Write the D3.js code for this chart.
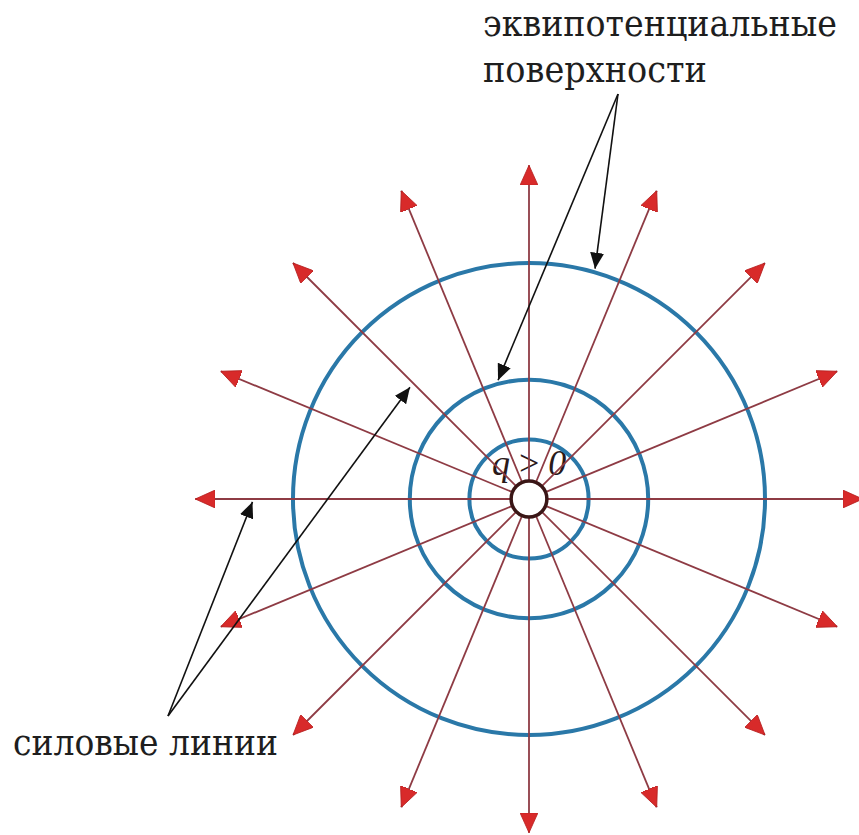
<!DOCTYPE html>
<html>
<head>
<meta charset="utf-8">
<script src="https://cdn.jsdelivr.net/npm/d3@7"></script>
<style>
  html, body { margin: 0; padding: 0; background: #fff; }
  svg { display: block; }
  .serif { font-family: 'DejaVu Serif', serif; }
  .qlab { font-family: 'Liberation Serif', 'DejaVu Serif', serif; }
</style>
</head>
<body>
<svg id="chart" width="859" height="835"></svg>
<script>
// ---- data ----
// field line directions (degrees, counter-clockwise from +x)
const fieldLineAngles = [0, 22.5, 45, 67.5, 90, 112.5, 135, 157.5, 180, 202.5, 225, 247.5, 270, 292.5, 315, 337.5];
// equipotential surface radii (relative units)
const equipotentialRadii = [1, 2, 3.96];
// charge radius and field-line length (relative units)
const chargeRadius = [0.3];
const fieldLineLength = [5.6];
// labels
const chargeLabel = ["q", " > ", "0"];
const equiLabel = ["эквипотенциальные", "поверхности"];
const fieldLabel = ["силовые линии"];
// annotation targets: [angle deg, radius units]
const equiTargets = [[74, 4.02], [104.6, 2.06]];
const fieldTargets = [[180.6, 4.64], [136.8, 2.74]];

// ---- drawing ----
const svg = d3.select("#chart");
const cx = 529, cy = 499;
const r = d3.scaleLinear().domain([0, 1]).range([0, 59.6]);
const pt = (deg, rad) => {
  const a = deg * Math.PI / 180;
  return [cx + r(rad) * Math.cos(a), cy - r(rad) * Math.sin(a)];
};

const defs = svg.append("defs");
defs.append("marker")
  .attr("id", "redHead").attr("markerUnits", "userSpaceOnUse")
  .attr("viewBox", "0 -9 20 18").attr("markerWidth", 20).attr("markerHeight", 18)
  .attr("refX", 20).attr("refY", 0).attr("orient", "auto")
  .append("path").attr("d", "M0,-9L20,0L0,9Z")
  .attr("fill", "#d82a2a").attr("stroke", "#b51e1e").attr("stroke-width", 0.8);
defs.append("marker")
  .attr("id", "blackHead").attr("markerUnits", "userSpaceOnUse")
  .attr("viewBox", "0 -7 16 14").attr("markerWidth", 16).attr("markerHeight", 14)
  .attr("refX", 16).attr("refY", 0).attr("orient", "auto")
  .append("path").attr("d", "M0,-7L16,0L0,7Z").attr("fill", "#111");

// q > 0 label (below lines)
const ql = svg.append("text").attr("class", "qlab")
  .attr("x", 492).attr("y", 475)
  .attr("font-size", 36).attr("fill", "#2a1a1a");
ql.selectAll("tspan").data(chargeLabel).join("tspan")
  .attr("font-style", (d, i) => i === 1 ? "normal" : "italic")
  .text(d => d);

// equipotential circles
svg.append("g").selectAll("circle").data(equipotentialRadii).join("circle")
  .attr("cx", cx).attr("cy", cy).attr("r", d => r(d))
  .attr("fill", "none").attr("stroke", "#2a78a8").attr("stroke-width", 4);

// field lines
svg.append("g").selectAll("line").data(fieldLineAngles).join("line")
  .attr("x1", d => pt(d, chargeRadius[0])[0]).attr("y1", d => pt(d, chargeRadius[0])[1])
  .attr("x2", d => pt(d, fieldLineLength[0])[0]).attr("y2", d => pt(d, fieldLineLength[0])[1])
  .attr("stroke", "#8e3b44").attr("stroke-width", 1.8)
  .attr("marker-end", "url(#redHead)");

// charge
svg.append("circle").attr("cx", cx).attr("cy", cy).attr("r", r(chargeRadius[0]))
  .attr("fill", "#fff").attr("stroke", "#3a1616").attr("stroke-width", 3.5);

// labels (horizontally condensed to the reference widths)
function condensedLabel(txt, x, y, size, width) {
  const t = svg.append("text").attr("class", "serif")
    .attr("x", 0).attr("y", 0)
    .attr("font-size", size).attr("fill", "#1e1e1e")
    .text(txt);
  const w = t.node().getComputedTextLength();
  const sx = Math.min(1, width / w);
  t.attr("transform", `translate(${x},${y}) scale(${sx},1)`);
}
const equiWidths = [354, 224];
equiLabel.forEach((d, i) => condensedLabel(d, 483, 36 + i * 46, 37, equiWidths[i]));
condensedLabel(fieldLabel[0], 13, 755, 38, 265);

// annotation arrows
const equiSrc = [618, 94];
svg.append("g").selectAll("line").data(equiTargets).join("line")
  .attr("x1", equiSrc[0]).attr("y1", equiSrc[1])
  .attr("x2", d => pt(d[0], d[1])[0]).attr("y2", d => pt(d[0], d[1])[1])
  .attr("stroke", "#111").attr("stroke-width", 1.6)
  .attr("marker-end", "url(#blackHead)");
const fieldSrc = [168, 716];
svg.append("g").selectAll("line").data(fieldTargets).join("line")
  .attr("x1", fieldSrc[0]).attr("y1", fieldSrc[1])
  .attr("x2", d => pt(d[0], d[1])[0]).attr("y2", d => pt(d[0], d[1])[1])
  .attr("stroke", "#111").attr("stroke-width", 1.6)
  .attr("marker-end", "url(#blackHead)");
</script>
</body>
</html>
